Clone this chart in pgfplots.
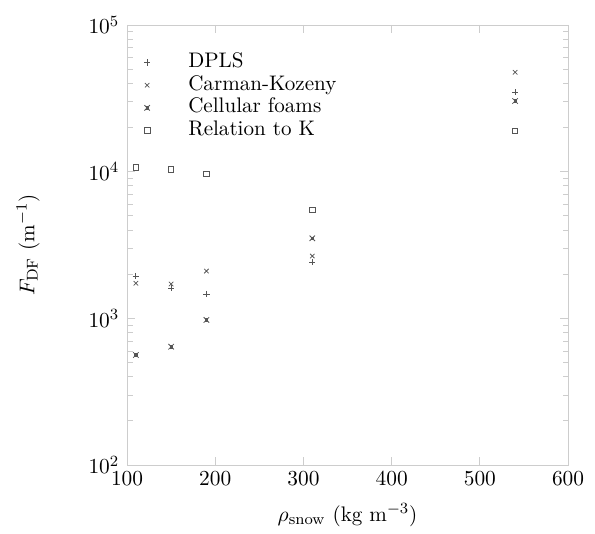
\documentclass[border=0pt]{standalone}
\usepackage{pgfplots}
\pgfplotsset{compat=1.18}
\definecolor{axgray}{RGB}{205,205,205}
\definecolor{mkgray}{RGB}{85,85,85}
\newcommand{\ff}{\fontsize{10.8}{13}\selectfont}
\pgfdeclareplotmark{xbox}{%
  \pgfpathmoveto{\pgfqpoint{-\pgfplotmarksize}{-\pgfplotmarksize}}%
  \pgfpathlineto{\pgfqpoint{\pgfplotmarksize}{\pgfplotmarksize}}%
  \pgfpathmoveto{\pgfqpoint{-\pgfplotmarksize}{\pgfplotmarksize}}%
  \pgfpathlineto{\pgfqpoint{\pgfplotmarksize}{-\pgfplotmarksize}}%
  \pgfusepathqstroke
  \pgfpathrectangle{\pgfqpoint{-0.45\pgfplotmarksize}{-0.45\pgfplotmarksize}}{\pgfqpoint{0.9\pgfplotmarksize}{0.9\pgfplotmarksize}}%
  \pgfusepathqfillstroke}
\begin{document}
\begin{tikzpicture}
\begin{semilogyaxis}[
  scale only axis,
  width=226pt, height=225.5pt,
  xmin=100, xmax=600, ymin=1e2, ymax=1e5,
  xtick={100,200,300,400,500,600},
  axis line style={axgray},
  every tick/.style={axgray},
  tick label style={font=\ff},
  yticklabel style={xshift=-0.5pt},
  label style={font=\ff},
  xlabel={$\rho_{\mathrm{snow}}$ (kg m$^{-3}$)},
  ylabel={$F_{\mathrm{DF}}$ (m$^{-1}$)},
  xlabel style={at={(axis description cs:0.5,-0.114)}, anchor=center},
  ylabel style={at={(axis description cs:-0.2245,0.5)}, anchor=center},
  legend style={draw=none, fill=none, at={(axis description cs:0,0.95)}, anchor=north west, font=\ff, row sep=0pt,
    nodes={text height=7.5pt, text depth=2.5pt, inner ysep=0.8pt}},
  legend cell align=left,
  every axis plot/.append style={only marks, mkgray, mark size=1.5pt, line width=0.4pt,
    legend image code/.code={\draw plot[only marks] coordinates {(0.25cm,0cm)}; \path[draw=none,fill=none] (0cm,0cm) -- (0.92cm,0cm);}},
]
\addplot[mark=+, mkgray, mark size=1.6pt] coordinates {(110,1945) (150,1605) (190,1466) (310,2410) (540,34800)};
\addlegendentry{DPLS}
\addplot[mark=x, mkgray, mark size=1.6pt] coordinates {(110,1735) (150,1715) (190,2100) (310,2660) (540,47600)};
\addlegendentry{Carman-Kozeny}
\addplot[mark=xbox, mkgray, mark size=1.4pt, mark options={fill=mkgray}] coordinates {(110,563) (150,641) (190,975) (310,3515) (540,30300)};
\addlegendentry{Cellular foams}
\addplot[mark=square, mkgray, mark size=1.4pt] coordinates {(110,10700) (150,10400) (190,9650) (310,5480) (540,18900)};
\addlegendentry{Relation to K}
\end{semilogyaxis}
\path (current axis.south west) ++(-65.1pt,-32.8pt);
\path (current axis.north east) ++(13.8pt,12.8pt);
\end{tikzpicture}
\end{document}
